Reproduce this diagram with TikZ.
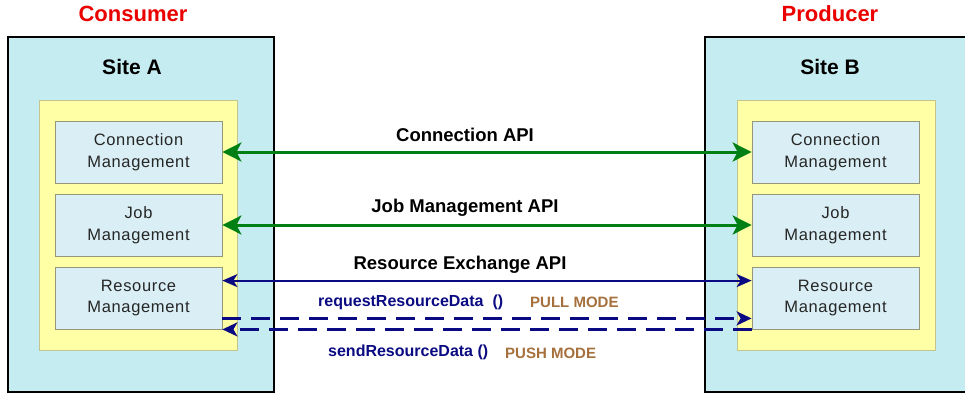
\documentclass[tikz,border=0pt]{standalone}
\usepackage{fontspec}
\setmainfont{Liberation Sans}
\newfontfamily\modulefont[LetterSpace=4]{Liberation Sans}
\usetikzlibrary{arrows.meta}
\definecolor{sitefill}{RGB}{197,236,240}
\definecolor{areafill}{RGB}{255,255,166}
\definecolor{areaedge}{RGB}{196,196,140}
\definecolor{modfill}{RGB}{218,239,245}
\definecolor{modedge}{RGB}{150,150,120}
\definecolor{apigreen}{RGB}{0,128,20}
\definecolor{apinavy}{RGB}{10,10,130}
\definecolor{modebrown}{RGB}{165,112,60}
\definecolor{rolered}{RGB}{235,0,0}
\tikzset{
  site/.style={draw=black, line width=1.5pt, fill=sitefill},
  area/.style={draw=areaedge, line width=0.8pt, fill=areafill, minimum width=198pt, minimum height=250pt, inner sep=0pt},
  module/.style={draw=modedge, line width=0.8pt, fill=modfill, minimum width=167pt, minimum height=62pt, inner sep=0pt,
    align=center, font=\modulefont\fontsize{16.5}{21.5}\selectfont, text=black!85},
  role/.style={font=\fontsize{22}{24}\selectfont\bfseries, text=rolered},
  sitetitle/.style={font=\fontsize{21}{23}\selectfont\bfseries},
  apilabel/.style={font=\fontsize{18.5}{20}\selectfont\bfseries},
  calllabel/.style={font=\fontsize{16}{18}\selectfont\bfseries, text=apinavy, anchor=west, inner sep=0pt},
  modelabel/.style={font=\fontsize{15}{17}\selectfont\bfseries, text=modebrown, anchor=west, inner sep=0pt},
  greentip/.style={Stealth[length=19pt,width=19pt,inset=5pt]},
  navytip/.style={Stealth[length=15pt,width=13pt,inset=4pt]},
  greenapi/.style={draw=apigreen, line width=3pt, {Stealth[length=19pt,width=19pt,inset=5pt]}-{Stealth[length=19pt,width=19pt,inset=5pt]}},
  navyapi/.style={draw=apinavy, line width=2pt, {Stealth[length=15pt,width=13pt,inset=4pt]}-{Stealth[length=15pt,width=13pt,inset=4pt]}},
  navydash/.style={draw=apinavy, line width=3.5pt, dash pattern=on 19pt off 10pt, -{Stealth[length=15pt,width=14pt,inset=4pt]}},
}
\begin{document}
\begin{tikzpicture}[x=1pt,y=-1pt]
\useasboundingbox (0,0) rectangle (965,394);
\clip (0,0) rectangle (965,394);

% Sites
\path[site] (8,37) rectangle (274,392);
\path[site] (705,37) rectangle (985,392);

% Role and site titles
\node[role] (consumer) at (133,14) {Consumer};
\node[role] (producer) at (830,14) {Producer};
\node[sitetitle] (siteA) at (132,67) {Site A};
\node[sitetitle] (siteB) at (830,67) {Site B};

% Management areas
\node[area] (areaA) at (138,225) {};
\node[area] (areaB) at (836,225) {};

% Modules of Site A
\node[module] (ca) at (138.5,152) {Connection\\Management};
\node[module] (ja) at (138.5,225) {Job\\Management};
\node[module] (ra) at (138.5,298) {Resource\\Management};

% Modules of Site B
\node[module] (cb) at (835.5,152) {Connection\\Management};
\node[module] (jb) at (835.5,225) {Job\\Management};
\node[module] (rb) at (835.5,298) {Resource\\Management};

% APIs
\draw[greenapi] (ca.east) -- (cb.west);
\draw[greenapi] (ja.east) -- (jb.west);
\draw[navyapi] ([yshift=-14pt]ra.north east) -- ([yshift=-14pt]rb.north west);
\draw[navydash] ([yshift=11pt]ra.south east) -- ([yshift=11pt]rb.south west);
\draw[navydash] (rb.south west) -- (ra.south east);

% API labels
\node[apilabel] (lconn) at (465,135) {Connection API};
\node[apilabel] (ljob) at (465,208) {Job Management API};
\node[apilabel] (lres) at (460,265) {Resource Exchange API};
\node[calllabel] (lreq) at (318,302) {requestResourceData\hspace{9pt}()};
\node[modelabel] (lpull) at (530,302) {PULL MODE};
\node[calllabel] (lsend) at (328,352) {sendResourceData ()};
\node[modelabel] (lpush) at (505,353) {PUSH MODE};
\end{tikzpicture}
\end{document}
